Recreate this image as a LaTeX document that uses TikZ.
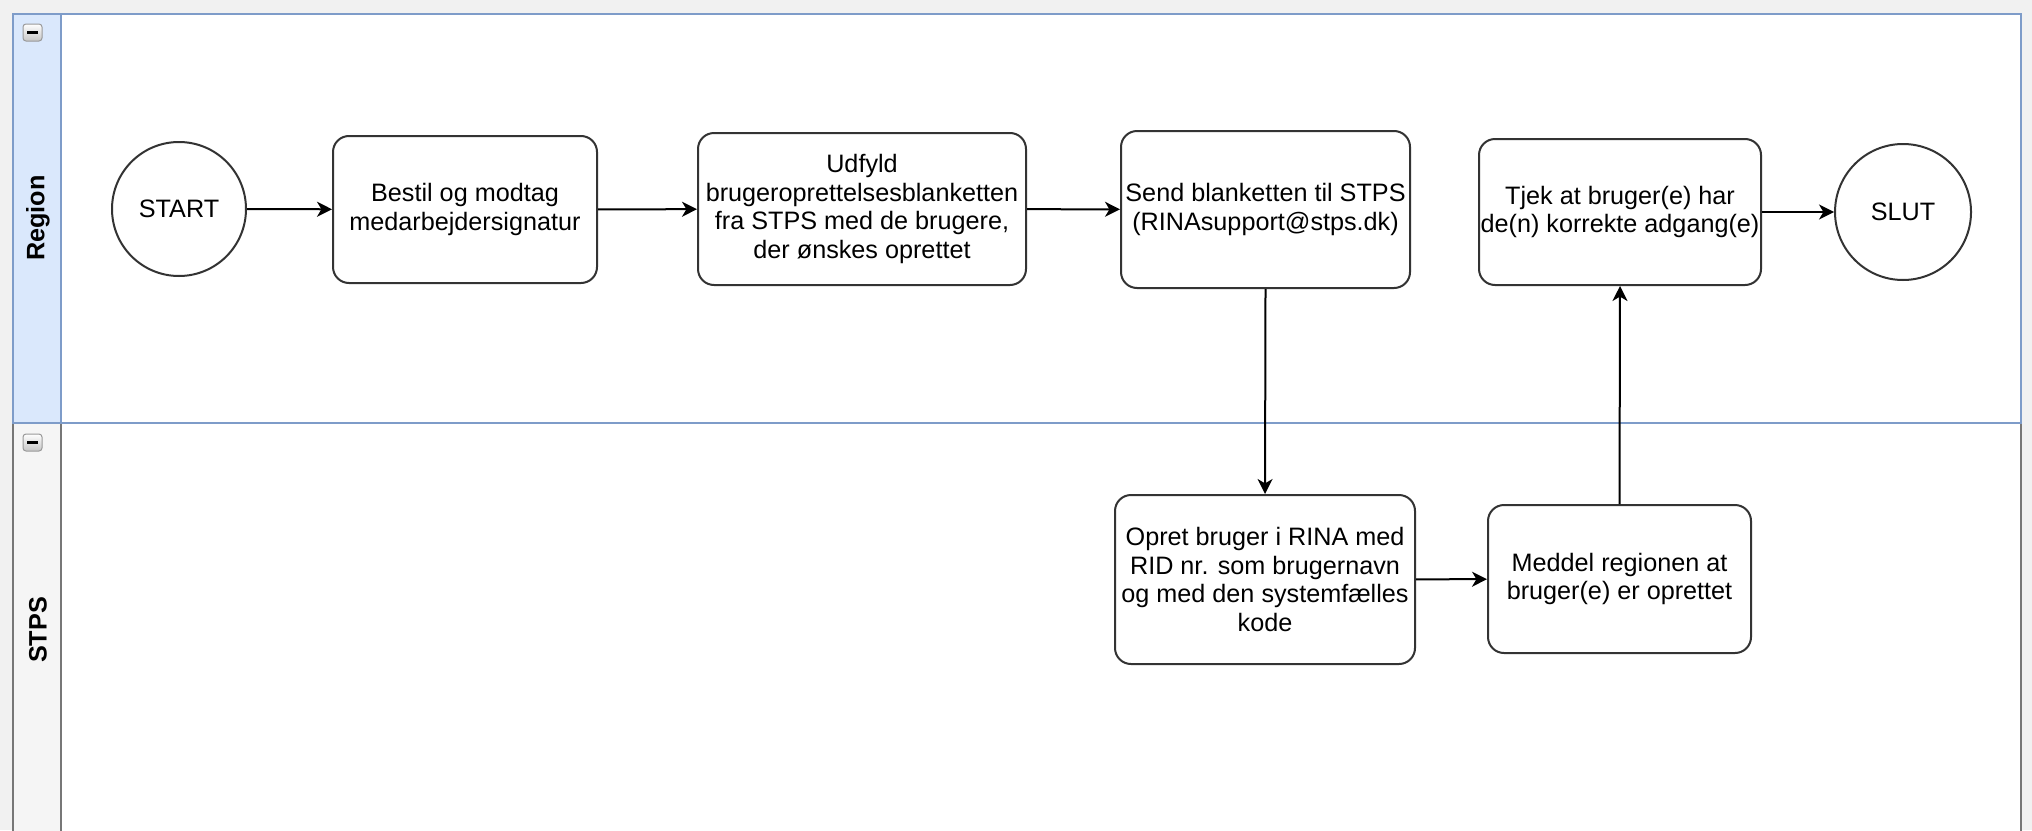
\documentclass[tikz,border=0pt]{standalone}
\usepackage{fontspec}
\setmainfont{Liberation Sans}
\usetikzlibrary{arrows.meta}
\definecolor{bgc}{HTML}{F1F1F1}
\definecolor{laneblue}{HTML}{DAE8FC}
\definecolor{laneblueb}{HTML}{7E9CC9}
\definecolor{lanegrey}{HTML}{F5F5F5}
\definecolor{lanegreyb}{HTML}{777777}
\definecolor{boxline}{HTML}{333333}
\begin{document}
\begin{tikzpicture}[x=0.5pt,y=-0.5pt,
  txt/.style={font=\fontsize{12.6}{14.3}\selectfont},
  proc/.style={txt, draw=boxline, line width=1pt, rounded corners=8pt, fill=white, align=center, inner sep=0pt},
  term/.style={txt, draw=boxline, line width=1pt, circle, fill=white, inner sep=0pt},
  flow/.style={line width=1pt, -{Stealth[length=7.5pt,width=7.5pt,inset=2.2pt]}},
  lanelbl/.style={font=\fontsize{12.6}{14.3}\selectfont\bfseries, rotate=90},
  minusbox/.style={draw=gray!80, line width=0.5pt, rounded corners=1.5pt, top color=white, bottom color=gray!45},
]
\useasboundingbox (0,0) rectangle (2032,830);
\clip (0,0) rectangle (2032,830);
\fill[bgc] (0,0) rectangle (2032,830);

% STPS lane
\draw[lanegreyb, line width=1pt, fill=white] (61,423) rectangle (2021,850);
\draw[lanegreyb, line width=1pt, fill=lanegrey] (13,423) rectangle (61,850);
% Region lane
\draw[laneblueb, line width=1pt, fill=white] (61,14) rectangle (2021,423);
\draw[laneblueb, line width=1pt, fill=laneblue] (13,14) rectangle (61,423);

% collapse icons
\draw[minusbox] (23,24) rectangle (42,41);
\draw[line width=1.1pt] (27,32.5) -- (38,32.5);
\draw[minusbox] (23,434) rectangle (42,451);
\draw[line width=1.1pt] (27,442.5) -- (38,442.5);

\node[lanelbl] (lregion) at (38,218) {Region};
\node[lanelbl] (lstps) at (38,630) {STPS};

% nodes
\node[term, minimum size=67pt] (start) at (179,209) {START};
\node[proc, minimum width=132pt, minimum height=73.5pt] (b1) at (465,209.5) {Bestil og modtag\\medarbejdersignatur};
\node[proc, minimum width=164pt, minimum height=76pt] (b2) at (862,209) {Udfyld\\brugeroprettelsesblanketten\\fra STPS med de brugere,\\der ønskes oprettet};
\node[proc, minimum width=144.5pt, minimum height=78.5pt] (b3) at (1265.5,209.5) {Send blanketten til STPS\\(RINAsupport@stps.dk)};
\node[proc, minimum width=141pt, minimum height=73pt] (b4) at (1620,212) {Tjek at bruger(e) har\\de(n) korrekte adgang(e)};
\node[term, minimum size=68pt] (slut) at (1903,212) {SLUT};
\node[proc, minimum width=150pt, minimum height=84.5pt] (b5) at (1265,579.5) {Opret bruger i RINA med\\RID nr. som brugernavn\\og med den systemfælles\\kode};
\node[proc, minimum width=131.5pt, minimum height=74pt] (b6) at (1619.5,579) {Meddel regionen at\\bruger(e) er oprettet};

% connectors
\draw[flow] (start) -- (b1);
\draw[flow] (b1) -- (b2);
\draw[flow] (b2) -- (b3);
\draw[flow] (b3.south) -- (b5.north);
\draw[flow] (b5) -- (b6);
\draw[flow] (b6.north) -- (b4.south);
\draw[flow] (b4) -- (slut);
\end{tikzpicture}
\end{document}
